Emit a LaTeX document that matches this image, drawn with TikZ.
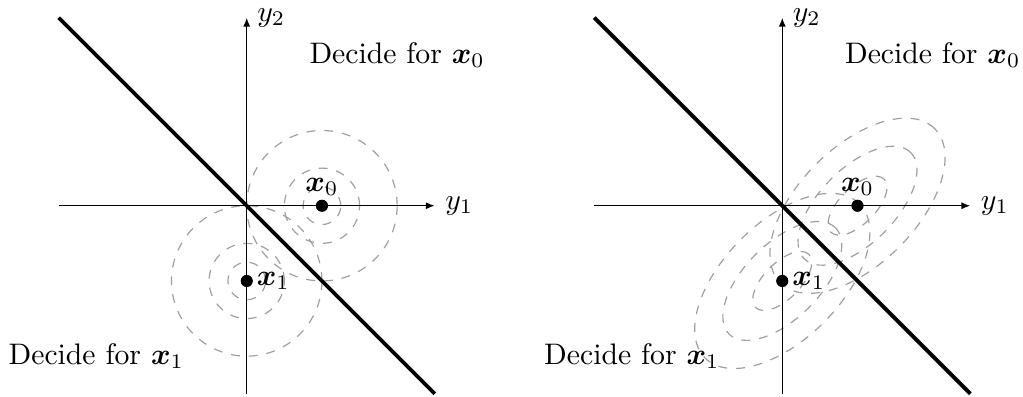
\documentclass[tikz,border=0pt]{standalone}
\usepackage{amsmath,bm}
\usetikzlibrary{arrows.meta,positioning}
\tikzset{
  axis/.style={-{Latex[length=3pt,width=2.4pt]}, line width=0.5pt},
  boundary/.style={line width=1.3pt},
  contour/.style={dashed, gray!75, thin},
  signal/.style={circle, fill=black, inner sep=0pt, minimum size=4pt},
  siglabel/.style={inner sep=1pt},
  region/.style={align=center}
}

\begin{document}
\begin{tikzpicture}[x=0.89cm, y=0.89cm]
  \useasboundingbox (-3.28,-2.53) rectangle (10.32,2.735);
  % white noise
  \coordinate (w) at (-2.5,0); \coordinate (e) at (2.5,0);
  \coordinate (s) at (0,-2.5); \coordinate (n) at (0,2.5);
  \coordinate (nw) at (-2.5,2.5); \coordinate (se) at (2.5,-2.5);
  \node[signal] (x0) at (1,0) {};
  \node[signal] (x1) at (0,-1) {};
  \draw[contour] (x0) circle (0.25) (x0) circle (0.5) (x0) circle (1);
  \draw[contour] (x1) circle (0.25) (x1) circle (0.5) (x1) circle (1);
  \draw[axis] (w) -- (e) node[right] {$y_1$};
  \draw[axis] (s) -- (n) node[right] {$y_2$};
  \draw[boundary] (nw) -- (se);
  \node[signal] at (x0) {}; \node[signal] at (x1) {};
  \node[siglabel, above=0pt of x0] {$\bm{x}_0$};
  \node[siglabel, right=0pt of x1] {$\bm{x}_1$};
  \node[region] (d0) at (2,2) {Decide for $\bm{x}_0$};
  \node[region] (d1) at (-2,-2) {Decide for $\bm{x}_1$};
  % correlated noise
  \begin{scope}[shift={(7.12,0)}]
    \coordinate (cw) at (-2.5,0); \coordinate (ce) at (2.5,0);
    \coordinate (cs) at (0,-2.5); \coordinate (cn) at (0,2.5);
    \coordinate (cnw) at (-2.5,2.5); \coordinate (cse) at (2.5,-2.5);
    \node[signal] (cx0) at (1,0) {};
    \node[signal] (cx1) at (0,-1) {};
    \draw[contour] (cx0) circle [x radius=0.5, y radius=0.24, rotate=45]
                   (cx0) circle [x radius=1, y radius=0.5, rotate=45]
                   (cx0) circle [x radius=1.45, y radius=0.78, rotate=45];
    \draw[contour] (cx1) circle [x radius=0.5, y radius=0.24, rotate=45]
                   (cx1) circle [x radius=1, y radius=0.5, rotate=45]
                   (cx1) circle [x radius=1.45, y radius=0.78, rotate=45];
    \draw[axis] (cw) -- (ce) node[right] {$y_1$};
    \draw[axis] (cs) -- (cn) node[right] {$y_2$};
    \draw[boundary] (cnw) -- (cse);
    \node[signal] at (cx0) {}; \node[signal] at (cx1) {};
    \node[siglabel, above=0pt of cx0] {$\bm{x}_0$};
    \node[siglabel, right=0pt of cx1] {$\bm{x}_1$};
    \node[region] (cd0) at (2,2) {Decide for $\bm{x}_0$};
    \node[region] (cd1) at (-2,-2) {Decide for $\bm{x}_1$};
  \end{scope}
\end{tikzpicture}
\end{document}
